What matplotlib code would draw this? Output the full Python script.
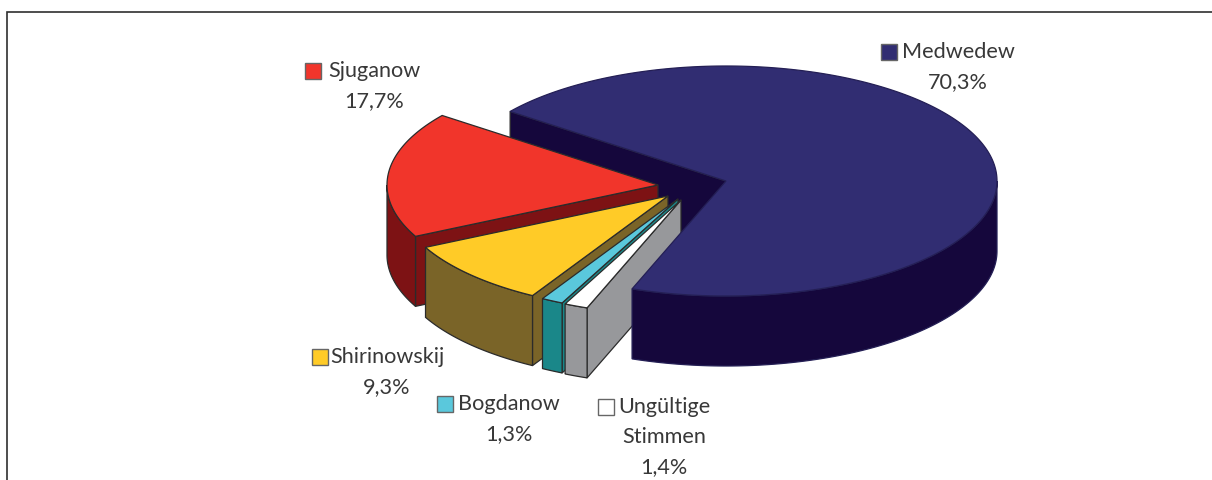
import numpy as np
import matplotlib
matplotlib.use("Agg")
import matplotlib.pyplot as plt
from matplotlib.patches import Polygon, Rectangle

# data, clockwise from the back-left edge of the largest slice
categories = ["Medwedew", "Ungültige Stimmen", "Bogdanow", "Shirinowskij", "Sjuganow"]
values = [70.3, 1.4, 1.3, 9.3, 17.7]
value_labels = ["70,3%", "1,4%", "1,3%", "9,3%", "17,7%"]

# styling and layout
top_colors = ["#312D72", "#FFFFFF", "#5AC8DC", "#FFCB27", "#F1352B"]
side_colors = ["#15073C", "#97989B", "#1A8789", "#7A6428", "#7D1214"]
edge_colors = ["#241f55", "#2b2b2b", "#2b2b2b", "#2b2b2b", "#2b2b2b"]
wall_z = [0.5, 5, 4, 3, 2]
body_z = [10, 5, 4, 3, 2]
explode_x = [0, -45, -48, -58, -68]
explode_y = [0, 19, 18, 15, 4]
label_lines = [["Medwedew"], ["Ungültige", "Stimmen"], ["Bogdanow"], ["Shirinowskij"], ["Sjuganow"]]
label_pos = [(958, 52), (664, 407), (509, 404), (387, 357), (374, 71)]
swatch_x = [881, 598, 437, 312, 305]
line_gap = 30
CX, CY, RX, RY, DEPTH = 726, 181, 271, 115, 70
START = 142.8
EDGE = "#2b2b2b"
FONT = "Lato"
FS = 15.6

fig = plt.figure(figsize=(12.12, 4.8), dpi=100)
ax = fig.add_axes([0, 0, 1, 1])
ax.set_xlim(0, 1212)
ax.set_ylim(480, 0)
ax.axis("off")

# frame: left and top only, running off the picture
ax.plot([6.5, 6.5, 1212], [480, 11.5, 11.5], color="#2f2f2f", lw=1.2, zorder=0, solid_joinstyle="miter")


def arc(cx, cy, a0, a1, dz=0):
    t = np.radians(np.linspace(a0, a1, 240))
    return np.column_stack([cx + RX * np.cos(t), cy - RY * np.sin(t) + dz])


angle = START
for i, v in enumerate(values):
    hi = angle
    lo = angle - v / sum(values) * 360
    angle = lo
    z = body_z[i]
    cx, cy = CX + explode_x[i], CY + explode_y[i]
    # radial wall at the larger-angle edge
    p = arc(cx, cy, hi, hi)[0]
    wall = [(cx, cy), tuple(p), (p[0], p[1] + DEPTH), (cx, cy + DEPTH)]
    ax.add_patch(Polygon(wall, fc=side_colors[i], ec=EDGE, lw=0.9, zorder=wall_z[i], joinstyle="round"))
    # outer wall: only the part on the front half of the ellipse
    a = np.linspace(lo, hi, 600)
    a = a[np.sin(np.radians(a)) <= 0]
    if a.size > 1:
        upper = arc(cx, cy, a[0], a[-1])
        lower = arc(cx, cy, a[-1], a[0], DEPTH)
        ax.add_patch(Polygon(np.vstack([upper, lower]), fc=side_colors[i], ec=edge_colors[i], lw=0.9, zorder=z + 0.1))
    # top face
    top = np.vstack([[(cx, cy)], arc(cx, cy, hi, lo)])
    ax.add_patch(Polygon(top, fc=top_colors[i], ec=edge_colors[i], lw=0.9, zorder=z + 0.2))

# labels
for i in range(len(categories)):
    x, y = label_pos[i]
    lines = label_lines[i] + [value_labels[i]]
    for k, s in enumerate(lines):
        ax.text(x, y + k * line_gap, s, family=FONT, fontsize=FS, color="#383838",
                ha="center", va="center", zorder=20)
    ax.add_patch(Rectangle((swatch_x[i], y - 8), 16, 16, fc=top_colors[i], ec="#666666", lw=1, zorder=20))

fig.savefig("out.png", dpi=100)
